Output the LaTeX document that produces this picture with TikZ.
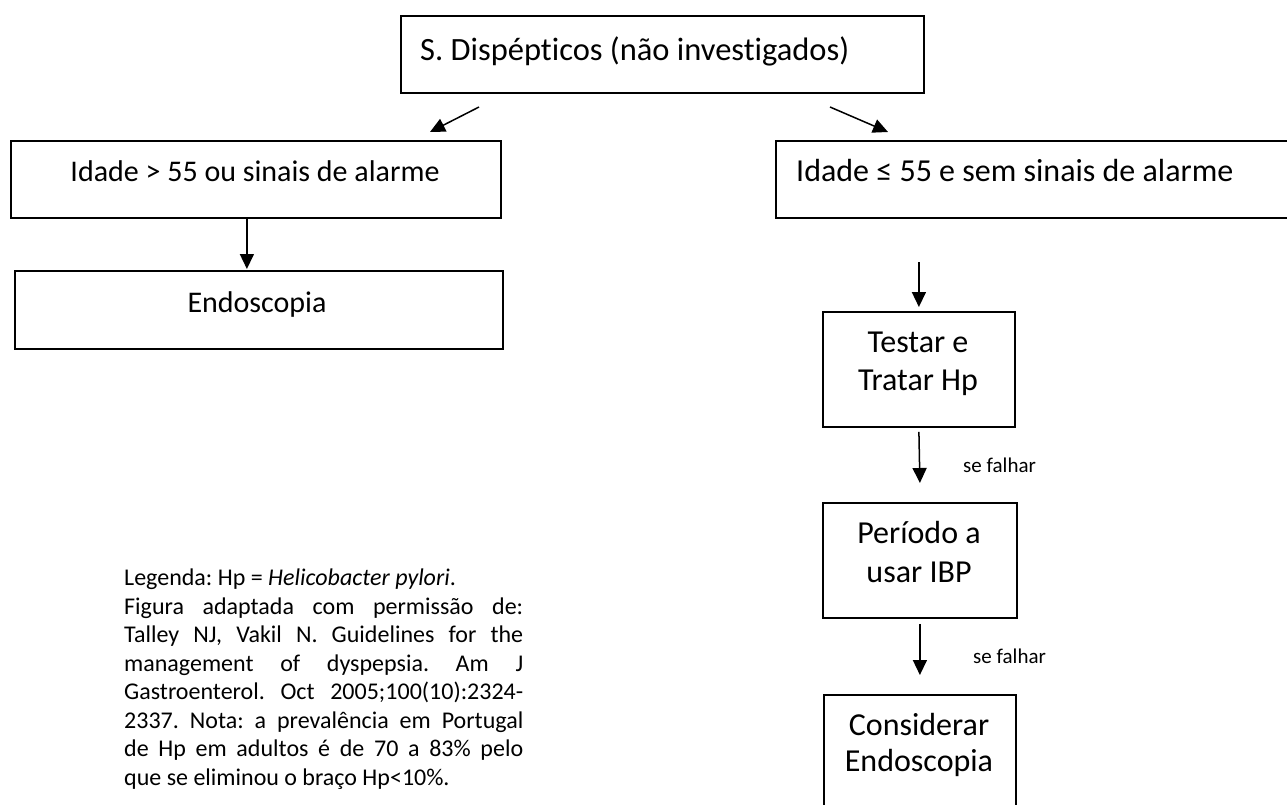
\documentclass[tikz,border=0pt]{standalone}
\usepackage{fontspec}
\setmainfont{Carlito}[Ligatures=NoCommon]
\usetikzlibrary{arrows.meta}
\newlength{\legw}
\setlength{\legw}{399pt}
\newcommand{\jline}[1]{\makebox[\legw][s]{#1}}
\frenchspacing
\begin{document}
\begin{tikzpicture}[x=1pt,y=-1pt,
  box/.style={draw, line width=1.8pt, inner sep=0pt, anchor=north west},
  lbl/.style={inner sep=0pt, font=\fontsize{32}{38}\selectfont},
  lblsmall/.style={inner sep=0pt, font=\fontsize{30}{37}\selectfont},
  arr/.style={line width=1.5pt, -{Triangle[length=15pt,width=14pt]}},
  small/.style={anchor=base west, inner sep=0pt, font=\fontsize{21}{25}\selectfont},
  legend/.style={anchor=base west, inner sep=0pt, align=left, font=\fontsize{24}{28.5}\selectfont}]
\useasboundingbox (0,0) rectangle (1287,804);
\fill[white] (0,0) rectangle (1287,804);
\clip (0,0) rectangle (1287,804);

% boxes
\node[box, minimum width=523pt, minimum height=77pt] (top) at (400,15) {};
\node[box, minimum width=490pt, minimum height=77pt] (left) at (10,140) {};
\node[box, minimum width=488pt, minimum height=78pt] (endo) at (14,270) {};
\node[box, minimum width=600pt, minimum height=77pt] (right) at (775,140) {};
\node[box, minimum width=192pt, minimum height=115pt] (testar) at (822,311) {};
\node[box, minimum width=194pt, minimum height=115pt] (per) at (822,502) {};
\node[box, minimum width=192pt, minimum height=200pt] (cons) at (823,694) {};

% texts
\node[lbl, anchor=base west, font=\fontsize{32.5}{38}\selectfont] (toptxt) at (420,60) {S. Dispépticos (não investigados)};
\node[lblsmall, anchor=base] (lefttxt) at (255,181) {Idade > 55 ou sinais de alarme};
\node[lblsmall, anchor=base] (endotxt) at (257,312) {Endoscopia};
\node[lbl, anchor=base west] (righttxt) at (796,181) {Idade ≤ 55 e sem sinais de alarme};
\node[lbl, anchor=base] (testartxt1) at (918,352) {Testar e};
\node[lbl, anchor=base] (testartxt2) at (918,390) {Tratar Hp};
\node[lbl, anchor=base] (pertxt1) at (919,543) {Período a};
\node[lbl, anchor=base] (pertxt2) at (919,582) {usar IBP};
\node[lbl, anchor=base] (constxt1) at (919,735) {Considerar};
\node[lbl, anchor=base] (constxt2) at (919,771) {Endoscopia};

% labels
\node[small] (sf1) at (963,472) {se falhar};
\node[small] (sf2) at (973,663) {se falhar};

% arrows
\coordinate (a1s) at (479,107);
\coordinate (a1e) at (430,132);
\coordinate (a2s) at (830,107);
\coordinate (a2e) at (888,132);
\draw[arr] (a1s) -- (a1e);
\draw[arr] (a2s) -- (a2e);
\draw[arr] ([xshift=-9pt]left.south) -- ([xshift=-9pt,yshift=1pt]left.south |- endo.north);
\draw[arr] ([yshift=49pt]testar.north) -- ([yshift=4pt]testar.north);
\draw[arr] ([yshift=-4pt]testar.south) -- ([yshift=19pt]per.north);
\draw[arr] ([yshift=-5pt]per.south) -- ([yshift=19pt]cons.north);

% legend (anchored at the baseline of its last line)
\node[legend] (leg) at (124,785) {Legenda: Hp = \textit{Helicobacter pylori}.\\
\jline{Figura adaptada com permissão de:}\\
\jline{Talley NJ, Vakil N. Guidelines for the}\\
\jline{management of dyspepsia. Am J}\\
\jline{Gastroenterol. Oct 2005;100(10):2324-}\\
\jline{2337. Nota: a prevalência em Portugal}\\
\jline{de Hp em adultos é de 70 a 83\% pelo}\\
que se eliminou o braço Hp<10\%.};
\end{tikzpicture}
\end{document}
